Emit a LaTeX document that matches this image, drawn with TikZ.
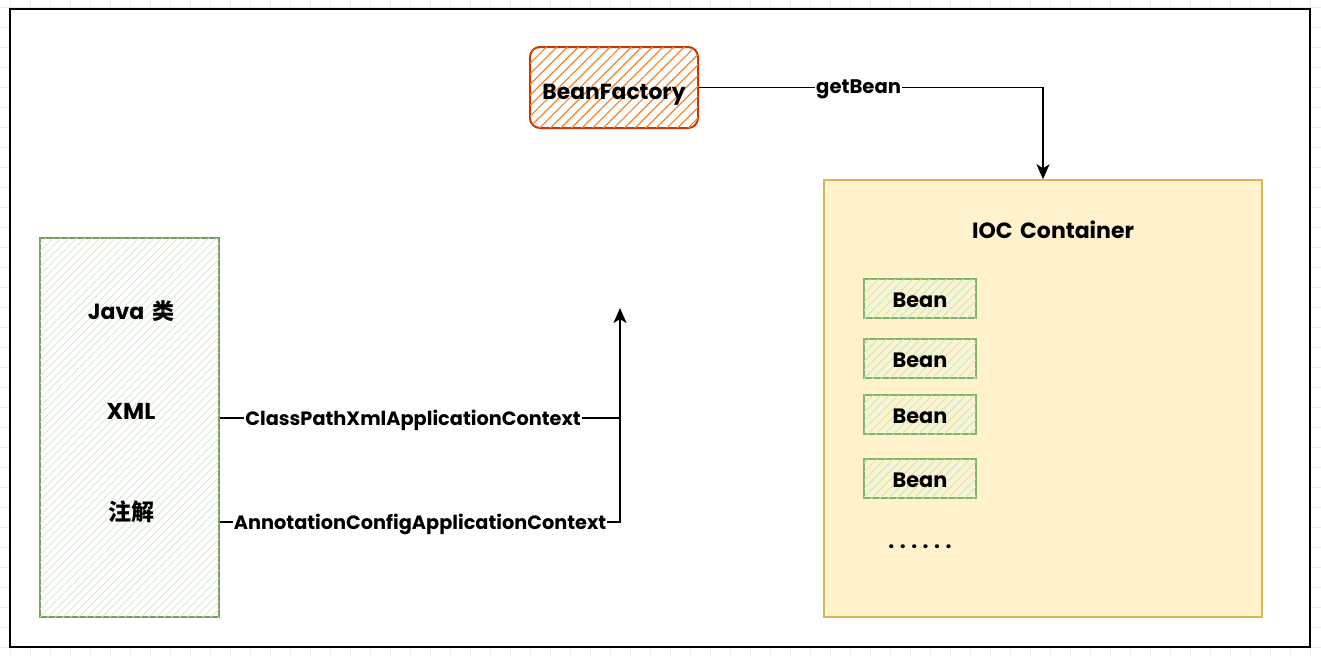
\documentclass[tikz,border=0pt]{standalone}
\usepackage{fontspec}
\setmainfont{Poppins}
\newfontfamily\cjk{Noto Sans CJK SC}
\usetikzlibrary{patterns.meta,arrows.meta}
\definecolor{orangeB}{HTML}{C73500}
\definecolor{orangeH}{HTML}{F5822A}
\definecolor{greenB}{HTML}{82B366}
\definecolor{greenH}{HTML}{CFE6C8}
\definecolor{yellowF}{HTML}{FFF2CC}
\definecolor{yellowB}{HTML}{D6B656}
\definecolor{gridc}{HTML}{EDEDED}
\newcommand\fs[1]{\bfseries\fontsize{#1}{#1}\selectfont}
\tikzset{
  txt/.style={font=\fs{19.3}, inner sep=1pt},
  conn/.style={line width=1.8pt, draw=black},
  tipc/.style={-{Stealth[length=15pt,width=13pt,inset=4pt]}},
  bfbox/.style={draw=orangeB, line width=2pt, rounded corners=10pt,
    fill=white, postaction={pattern={Lines[angle=45,distance=7.5pt,line width=1.2pt]}, pattern color=orangeH},
    minimum width=168pt, minimum height=81pt, inner sep=1pt, font=\fs{21.8},
    text height=26pt, text depth=2.8pt},
  srcbox/.style={draw=greenB!90!black, line width=2.4pt, fill=white,
    postaction={pattern={Lines[angle=45,distance=5.5pt,line width=0.7pt]}, pattern color=greenH},
    minimum width=179pt, minimum height=379pt},
  iocbox/.style={draw=yellowB, line width=1.5pt, fill=yellowF, minimum width=438pt, minimum height=437pt},
  beanbox/.style={draw=greenB, line width=2.2pt, fill=yellowF,
    postaction={pattern={Lines[angle=45,distance=6pt,line width=0.8pt]}, pattern color=greenH!80!cyan!90!white},
    minimum width=112pt, minimum height=39pt, inner sep=1pt, font=\fs{20.8},
    text height=20pt, text depth=1.6pt},
  frame/.style={draw=black, line width=2.8pt, fill=white},
  onlbl/.style={txt, fill=white, yshift=-2pt},
}
\begin{document}
\begin{tikzpicture}[x=1pt,y=-1pt]
\useasboundingbox (0,0) rectangle (1321,657);
% background grid
\foreach \x in {10,30,...,1321} \draw[gridc, line width=0.8pt] (\x,0) -- (\x,657);
\foreach \y in {7,27,...,657} \draw[gridc, line width=0.8pt] (0,\y) -- (1321,\y);
% frame
\path[frame] (10,9) rectangle (1310,647);

% IOC container
\node[iocbox] (ioc) at (1043,398.5) {};
\node[txt, font=\fs{22}] (ioct) at (1053,230) {IOC\hspace{3pt} Container};
\node[beanbox] (b1) at (920,298.5) {Bean};
\node[beanbox] (b2) at (920,358.5) {Bean};
\node[beanbox] (b3) at (920,414.5) {Bean};
\node[beanbox] (b4) at (920,478.5) {Bean};
\node[txt, font=\fs{21}] (dots) at (920,547) {.\hspace{5.5pt}.\hspace{5.5pt}.\hspace{5.5pt}.\hspace{5.5pt}.\hspace{5.5pt}.};

% BeanFactory
\node[bfbox] (bf) at (614,87.5) {BeanFactory};
\draw[conn,tipc] (bf.east) -| node[onlbl, font=\fs{19.6}, pos=0.232] (gb) {getBean} (ioc.north);

% sources
\node[srcbox] (src) at (129.5,427.5) {};
\node[txt, font=\fs{22}] (java) at (131,311) {Java\hspace{3pt} {\cjk 类}};
\node[txt, font=\fs{23}] (xml) at (131,411) {XML};
\node[txt, font=\cjk\bfseries\fontsize{23}{23}\selectfont] (ann) at (131,512) {注解};

\coordinate (j1) at (620,418);
\coordinate (j2) at (620,522);
\coordinate (tip) at (620,308);
\draw[conn] (src.east |- j1) -- node[onlbl, xshift=-7pt] (l1) {ClassPathXmlApplicationContext} (j1);
\draw[conn,tipc] (src.east |- j2) -- node[onlbl] (l2) {AnnotationConfigApplicationContext} (j2) -- (tip);
\end{tikzpicture}
\end{document}
